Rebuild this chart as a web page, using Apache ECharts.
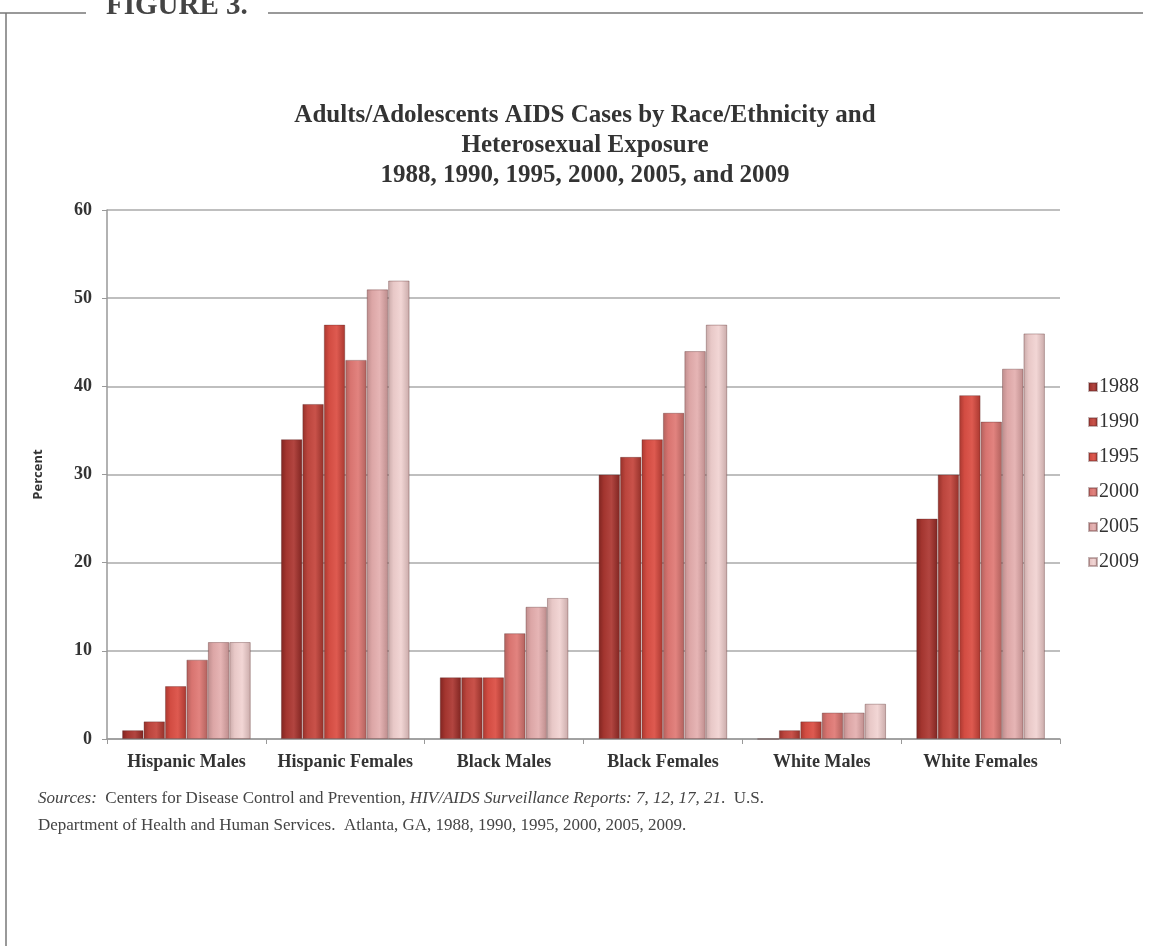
<!DOCTYPE html>
<html lang="en">
<head>
	<meta charset="UTF-8">
	<title>Figure 3</title>
	<style>
		html, body { margin: 0; padding: 0; background: #fff; }
	</style>
</head>
<body>
	<div id="main" style="width: 1153px;height:946px;"></div>
<script type="text/javascript" src="https://cdn.jsdelivr.net/npm/echarts@6/dist/echarts.min.js"></script>
<script type="text/javascript">
	// categories and values (percent)
	var groups = ['Hispanic Males', 'Hispanic Females', 'Black Males', 'Black Females', 'White Males', 'White Females'];
	var years = ['1988', '1990', '1995', '2000', '2005', '2009'];
	var v1988 = [1, 34, 7, 30, 0, 25];
	var v1990 = [2, 38, 7, 32, 1, 30];
	var v1995 = [6, 47, 7, 34, 2, 39];
	var v2000 = [9, 43, 12, 37, 3, 36];
	var v2005 = [11, 51, 15, 44, 3, 42];
	var v2009 = [11, 52, 16, 47, 4, 46];
	var yTicks = [0, 10, 20, 30, 40, 50, 60];

	var values = [v1988, v1990, v1995, v2000, v2005, v2009];
	// dark edge, main colour, light highlight per year
	var shades = [
		['#7e2420', '#a3352f', '#b24540'],
		['#933029', '#bb453d', '#c9524a'],
		['#a8372f', '#d24c42', '#de5a50'],
		['#b0605c', '#d87470', '#e2837f'],
		['#bd8c8c', '#dca6a6', '#e6b5b5'],
		['#c9aaa9', '#e8c8c7', '#f2d6d5']
	];

	var serif = '"Liberation Serif", "DejaVu Serif", serif';

	var myChart = echarts.init(document.getElementById('main'));

	var series = [];
	for (var i = 0; i < years.length; i++) {
		var s = shades[i];
		series.push({
			name: years[i],
			type: 'bar',
			data: values[i],
			barGap: '0%',
			barCategoryGap: '19%',
			itemStyle: {
				color: new echarts.graphic.LinearGradient(0, 0, 1, 0, [
					{ offset: 0, color: s[0] },
					{ offset: 0.25, color: s[1] },
					{ offset: 0.6, color: s[2] },
					{ offset: 1, color: s[0] }
				]),
				borderColor: 'rgba(90,40,40,0.35)',
				borderWidth: 1
			}
		});
	}

	myChart.setOption({
		animation: false,
		backgroundColor: '#fff',
		title: {
			text: 'Adults/Adolescents AIDS Cases by Race/Ethnicity and\nHeterosexual Exposure\n1988, 1990, 1995, 2000, 2005, and 2009',
			left: 580,
			textAlign: 'center',
			top: 96,
			textStyle: {
				fontFamily: serif,
				fontWeight: 'bold',
				fontSize: 25,
				lineHeight: 30,
				color: '#333'
			}
		},
		legend: {
			data: years,
			orient: 'vertical',
			left: 1083,
			top: 372,
			itemWidth: 8,
			itemHeight: 8,
			itemGap: 15,
			icon: 'rect',
			textStyle: {
				fontFamily: serif,
				fontSize: 20,
				color: '#333',
				padding: [0, 0, 0, -3]
			}
		},
		grid: {
			left: 107,
			right: 93,
			top: 210,
			bottom: 207
		},
		xAxis: {
			type: 'category',
			data: groups,
			axisLine: { lineStyle: { color: '#999', width: 1.5 } },
			axisTick: { show: true, length: 5, lineStyle: { color: '#999' } },
			axisLabel: {
				interval: 0,
				fontFamily: serif,
				fontWeight: 'bold',
				fontSize: 18,
				color: '#333',
				margin: 14
			}
		},
		yAxis: {
			type: 'value',
			min: yTicks[0],
			max: yTicks[yTicks.length - 1],
			interval: 10,
			name: 'Percent',
			nameLocation: 'middle',
			nameGap: 62,
			nameTextStyle: {
				fontFamily: '"Open Sans", sans-serif',
				fontWeight: 'bold',
				fontSize: 13,
				color: '#333'
			},
			axisLine: { show: true, lineStyle: { color: '#999', width: 1.5 } },
			axisTick: { show: true, length: 5, lineStyle: { color: '#999' } },
			axisLabel: {
				fontFamily: serif,
				fontWeight: 'bold',
				fontSize: 18,
				color: '#333',
				margin: 15
			},
			splitLine: { lineStyle: { color: '#aaa', width: 1.5 } }
		},
		series: series,
		graphic: [
			{ type: 'line', shape: { x1: 0, y1: 13, x2: 86, y2: 13 }, style: { stroke: '#777', lineWidth: 1.5 } },
			{ type: 'line', shape: { x1: 268, y1: 13, x2: 1143, y2: 13 }, style: { stroke: '#777', lineWidth: 1.5 } },
			{ type: 'line', shape: { x1: 6, y1: 13, x2: 6, y2: 946 }, style: { stroke: '#777', lineWidth: 1.5 } },
			{
				type: 'text', left: 106, top: -8,
				style: { text: 'FIGURE 3.', font: 'bold 29px ' + serif, fill: '#444' }
			},
			{
				type: 'text', left: 38, top: 785,
				style: {
					text: '{i|Sources:}  Centers for Disease Control and Prevention, {i|HIV/AIDS Surveillance Reports: 7, 12, 17, 21}.  U.S.\nDepartment of Health and Human Services.  Atlanta, GA, 1988, 1990, 1995, 2000, 2005, 2009.',
					font: '17px ' + serif,
					fill: '#444',
					lineHeight: 27,
					rich: {
						i: { fontStyle: 'italic', fontFamily: serif, fontSize: 17, fill: '#444' }
					}
				}
			}
		]
	});
</script>
</body>
</html>
